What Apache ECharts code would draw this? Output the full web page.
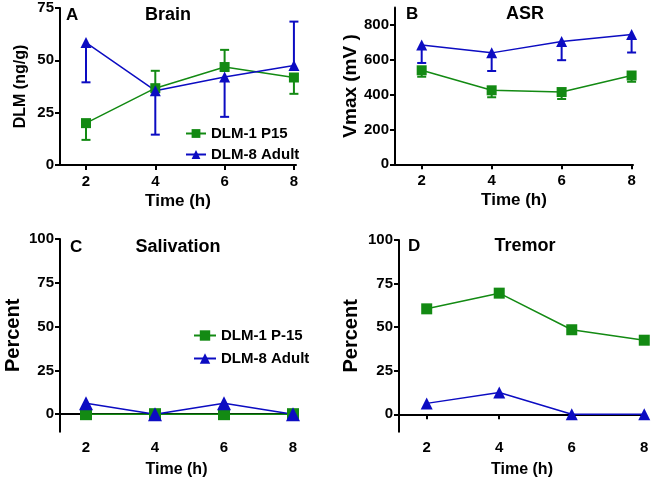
<!DOCTYPE html>
<html lang="en">
<head>
  <meta charset="UTF-8">
  <title>DLM brain levels, ASR, salivation and tremor</title>
  <script src="https://cdn.jsdelivr.net/npm/echarts@6/dist/echarts.min.js"></script>
  <style>
    html, body { margin: 0; padding: 0; background: #fff; }
    #main { width: 655px; height: 482px; }
  </style>
</head>
<body>
  <div id="main"></div>
  <script>
    // time points (h)
    const times = [2, 4, 6, 8];
    const timeTicks = [2, 4, 6, 8];

    // A - Brain, DLM (ng/g); error arrays hold the whisker end value (one-sided)
    const brainP15 = [20, 36.7, 46.8, 41.8];
    const brainP15Err = [12, 45, 55, 34];
    const brainAdult = [58.5, 35.5, 42, 47.5];
    const brainAdultErr = [39.5, 14.5, 23, 68.5];

    // B - ASR, Vmax (mV)
    const asrP15 = [540, 425, 415, 510];
    const asrP15Err = [503, 385, 375, 474];
    const asrAdult = [685, 640, 705, 745];
    const asrAdultErr = [582, 536, 598, 642];

    // C - Salivation (%)
    const salP15 = [0, 0, 0, 0];
    const salAdult = [6.25, 0, 6.25, 0];

    // D - Tremor (%)
    const tremP15 = [60.5, 69.5, 48.5, 42.5];
    const tremAdult = [6.25, 12.5, 0, 0];

    const pctTicks = [0, 25, 50, 75, 100];

    const GREEN = '#138a13';
    const BLUE = '#0c0cc2';
    const FONT = 'Liberation Sans';

    function pairs(ys) { return times.map((t, i) => [t, ys[i]]); }
    function errPairs(ys, ends) { return times.map((t, i) => [t, ys[i], ends[i]]); }

    // one-sided error bar: stem from the mean to the whisker end, plus a cap
    function errRender(params, api) {
      const x = api.value(0), v = api.value(1), e = api.value(2);
      const p1 = api.coord([x, v]);
      const p2 = api.coord([x, e]);
      const c = api.visual('color');
      const w = 4.5;
      return {
        type: 'group',
        children: [
          { type: 'line', shape: { x1: p1[0], y1: p1[1], x2: p2[0], y2: p2[1] }, style: { stroke: c, lineWidth: 2 } },
          { type: 'line', shape: { x1: p2[0] - w, y1: p2[1], x2: p2[0] + w, y2: p2[1] }, style: { stroke: c, lineWidth: 2 } }
        ]
      };
    }

    const axisLineStyle = { show: true, lineStyle: { color: '#000', width: 2 } };
    const tickStyle = { show: true, length: 5, lineStyle: { color: '#000', width: 2 } };
    const labelStyle = { color: '#000', fontFamily: FONT, fontWeight: 'bold', fontSize: 15 };

    function xAxis(idx, min, max, gap, nameSize) {
      return {
        type: 'value', gridIndex: idx, min: min, max: max,
        name: 'Time (h)', nameLocation: 'middle', nameGap: gap,
        nameTextStyle: { color: '#000', fontFamily: FONT, fontWeight: 'bold', fontSize: nameSize },
        axisLine: axisLineStyle,
        axisTick: Object.assign({ customValues: timeTicks }, tickStyle),
        axisLabel: Object.assign({ customValues: timeTicks, margin: 9 }, labelStyle),
        splitLine: { show: false }
      };
    }

    function yAxis(idx, min, max, ticks, name, gap, nameSize) {
      return {
        type: 'value', gridIndex: idx, min: min, max: max,
        name: name, nameLocation: 'middle', nameGap: gap,
        nameTextStyle: { color: '#000', fontFamily: FONT, fontWeight: 'bold', fontSize: nameSize },
        axisLine: axisLineStyle,
        axisTick: Object.assign({ customValues: ticks }, tickStyle),
        axisLabel: Object.assign({ customValues: ticks, margin: 6 }, labelStyle),
        splitLine: { show: false }
      };
    }

    function lineSeries(name, idx, ys, color, symbol, size) {
      return {
        name: name, type: 'line', xAxisIndex: idx, yAxisIndex: idx,
        data: pairs(ys), symbol: symbol, symbolSize: size,
        lineStyle: { color: color, width: 1.5 },
        itemStyle: { color: color },
        z: 3
      };
    }

    function errSeries(idx, ys, ends, color) {
      return {
        type: 'custom', xAxisIndex: idx, yAxisIndex: idx,
        data: errPairs(ys, ends), renderItem: errRender,
        itemStyle: { color: color }, z: 2, silent: true
      };
    }

    function panelTitles(letter, lx, ly, text, cx, cy) {
      return [
        { text: letter, left: lx, top: ly, textStyle: { fontFamily: FONT, fontWeight: 'bold', fontSize: 17, color: '#000' }, padding: 0 },
        { text: text, left: cx, top: cy, textAlign: 'center', textStyle: { fontFamily: FONT, fontWeight: 'bold', fontSize: 18, color: '#000' }, padding: 0 }
      ];
    }

    const legendText = { fontFamily: FONT, fontWeight: 'bold', fontSize: 15, color: '#000' };

    const chart = echarts.init(document.getElementById('main'));
    const option = {
      animation: false,
      backgroundColor: '#fff',
      title: [].concat(
        panelTitles('A', 66, 7, 'Brain', 168, 6),
        panelTitles('B', 406, 6, 'ASR', 525, 5),
        panelTitles('C', 70, 239, 'Salivation', 178, 238),
        panelTitles('D', 408, 238, 'Tremor', 525, 237)
      ),
      legend: [
        {
          data: ['DLM-1 P15', 'DLM-8 Adult'], orient: 'vertical', left: 180, top: 121,
          itemWidth: 20, itemHeight: 11, itemGap: 6,
          textStyle: legendText
        },
        {
          data: ['DLM-1 P-15', 'DLM-8 Adult C'], orient: 'vertical', left: 188, top: 323,
          itemWidth: 22, itemHeight: 13, itemGap: 8,
          formatter: n => n === 'DLM-8 Adult C' ? 'DLM-8 Adult' : n,
          textStyle: legendText
        }
      ],
      grid: [
        { left: 60, top: 8, width: 236, height: 157 },
        { left: 395, top: 7.6, width: 238, height: 156.7 },
        { left: 60, top: 239, width: 233, height: 192.7 },
        { left: 399, top: 240, width: 246, height: 191.7 }
      ],
      xAxis: [
        xAxis(0, 1.25, 8.06, 28, 17),
        xAxis(1, 1.237, 8.04, 28, 17),
        xAxis(2, 1.246, 8, 30, 16),
        xAxis(3, 1.236, 8.02, 30, 16)
      ],
      yAxis: [
        yAxis(0, 0, 75, [0, 25, 50, 75], 'DLM (ng/g)', 31, 16),
        yAxis(1, 0, 900, [0, 200, 400, 600, 800], 'Vmax (mV )', 35, 19),
        yAxis(2, -10, 100, pctTicks, 'Percent', 37, 20),
        yAxis(3, -10, 100, pctTicks, 'Percent', 38, 20)
      ],
      series: [
        errSeries(0, brainP15, brainP15Err, GREEN),
        errSeries(0, brainAdult, brainAdultErr, BLUE),
        lineSeries('DLM-1 P15', 0, brainP15, GREEN, 'rect', 10),
        lineSeries('DLM-8 Adult', 0, brainAdult, BLUE, 'triangle', 11),

        errSeries(1, asrP15, asrP15Err, GREEN),
        errSeries(1, asrAdult, asrAdultErr, BLUE),
        lineSeries('ASR P15', 1, asrP15, GREEN, 'rect', 10),
        lineSeries('ASR Adult', 1, asrAdult, BLUE, 'triangle', 11),

        lineSeries('DLM-1 P-15', 2, salP15, GREEN, 'rect', 12),
        lineSeries('DLM-8 Adult C', 2, salAdult, BLUE, 'triangle', 14),

        lineSeries('Tremor P15', 3, tremP15, GREEN, 'rect', 11),
        lineSeries('Tremor Adult', 3, tremAdult, BLUE, 'triangle', 12)
      ]
    };
    chart.setOption(option);
  </script>
</body>
</html>
